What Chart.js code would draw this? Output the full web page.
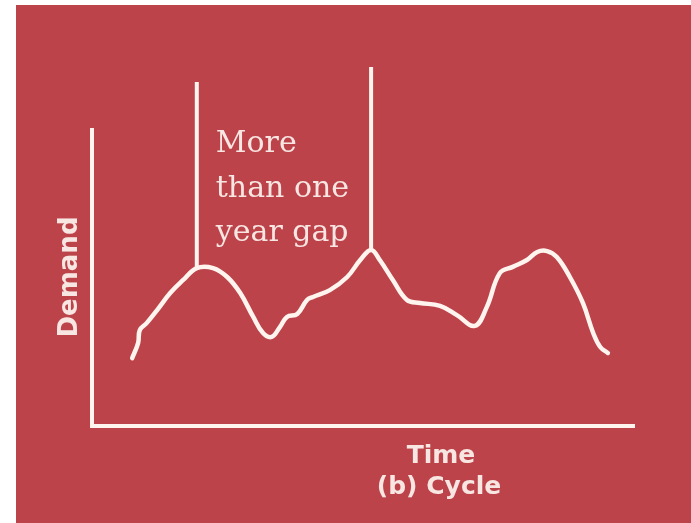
<!DOCTYPE html>
<html>
<head>
<meta charset="utf-8">
<script src="https://cdn.jsdelivr.net/npm/chart.js@4"></script>
<style>
  html, body { margin: 0; padding: 0; background: #ffffff; }
  #wrap { position: absolute; left: 0; top: 0; width: 691px; height: 523px; }
</style>
</head>
<body>
<div id="wrap"><canvas id="c"></canvas></div>
<script>
// ---- data (arbitrary units: time 0..100, demand 0..100) ----
const timeValues   = [7.4, 8.5, 8.8, 10.1, 12.0, 14.4, 16.8, 19.3, 22.3, 24.9, 27.3, 29.7, 31.5, 33.1, 34.6, 35.9, 37.8, 39.6, 40.7, 43.8, 47.0, 49.4, 51.4, 53.0, 55.4, 58.0, 60.4, 64.1, 67.2, 70.5, 72.7, 75.1, 77.5, 80.1, 82.0, 83.8, 85.6, 88.0, 90.4, 92.3, 93.6, 95.0];
const demandValues = [22.8, 27.9, 32.2, 34.6, 38.9, 44.6, 49.0, 53.0, 53.0, 50.0, 44.6, 36.6, 31.2, 29.9, 33.2, 36.6, 37.6, 42.3, 43.3, 45.6, 50.0, 55.7, 59.1, 55.7, 49.0, 42.3, 41.3, 40.3, 37.2, 33.6, 39.9, 51.3, 53.4, 55.7, 58.4, 58.7, 56.7, 50.0, 41.3, 31.2, 26.5, 24.5];
const gapTimes     = [19.3, 51.4];
const gapBottoms   = [53.0, 59.1];
const gapTops      = [115.4, 120.5];
const axisTimes    = [0, 0, 100];
const axisDemands  = [100, 0, 0];
const gapLabel     = ["More", "than one", "year gap"];
const xTitle       = "Time";
const subTitle     = "(b) Cycle";
const yTitle       = "Demand";

const RED = '#BD434B';
const LINE = '#FFF4EE';
const TEXT = '#F7E6E2';

const pts = (xs, ys) => xs.map((x, i) => ({x: x, y: ys[i]}));

const bgPlugin = {
  id: 'bg',
  beforeDraw(chart) {
    const ctx = chart.ctx;
    ctx.save();
    ctx.fillStyle = '#ffffff';
    ctx.fillRect(0, 0, chart.width, chart.height);
    ctx.fillStyle = RED;
    ctx.fillRect(16, 5, chart.width - 16, chart.height - 5);
    ctx.restore();
  }
};

const textPlugin = {
  id: 'texts',
  afterDraw(chart) {
    const ctx = chart.ctx;
    const xs = chart.scales.x, ys = chart.scales.y;
    ctx.save();
    ctx.fillStyle = TEXT;
    // gap annotation
    ctx.font = '30px "DejaVu Serif"';
    ctx.textAlign = 'left';
    ctx.textBaseline = 'alphabetic';
    const lx = xs.getPixelForValue(gapTimes[0]) + 19;
    [152, 197, 241].forEach((b, i) => ctx.fillText(gapLabel[i], lx, b));
    // x title
    ctx.font = 'bold 25px "DejaVu Sans"';
    ctx.textAlign = 'center';
    ctx.fillText(xTitle, 441, 463);
    ctx.fillText(subTitle, 439, 494);
    // y title
    ctx.translate(77, 277);
    ctx.rotate(-Math.PI / 2);
    ctx.font = 'bold 26px "DejaVu Sans"';
    ctx.textAlign = 'center';
    ctx.fillText(yTitle, 0, 0);
    ctx.restore();
  }
};

new Chart(document.getElementById('c'), {
  type: 'scatter',
  data: {
    datasets: [
      { data: pts(axisTimes, axisDemands), showLine: true, borderColor: LINE, borderWidth: 4,
        pointRadius: 0, tension: 0, borderJoinStyle: 'miter', clip: 20 },
      { data: pts(timeValues, demandValues), showLine: true, borderColor: LINE, borderWidth: 4.5,
        pointRadius: 0, tension: 0.4, borderCapStyle: 'round', borderJoinStyle: 'round', clip: 20 },
      { data: [{x: gapTimes[0], y: gapBottoms[0]}, {x: gapTimes[0], y: gapTops[0]}], showLine: true,
        borderColor: LINE, borderWidth: 4, pointRadius: 0, clip: 20 },
      { data: [{x: gapTimes[1], y: gapBottoms[1]}, {x: gapTimes[1], y: gapTops[1]}], showLine: true,
        borderColor: LINE, borderWidth: 4, pointRadius: 0, clip: 20 }
    ]
  },
  options: {
    responsive: true,
    maintainAspectRatio: false,
    animation: false,
    layout: { padding: { left: 92, right: 56, top: 53.5, bottom: 97 } },
    plugins: { legend: { display: false }, tooltip: { enabled: false } },
    scales: {
      x: { type: 'linear', min: 0, max: 100, display: false },
      y: { type: 'linear', min: 0, max: 125, display: false }
    }
  },
  plugins: [bgPlugin, textPlugin]
});
</script>
</body>
</html>
